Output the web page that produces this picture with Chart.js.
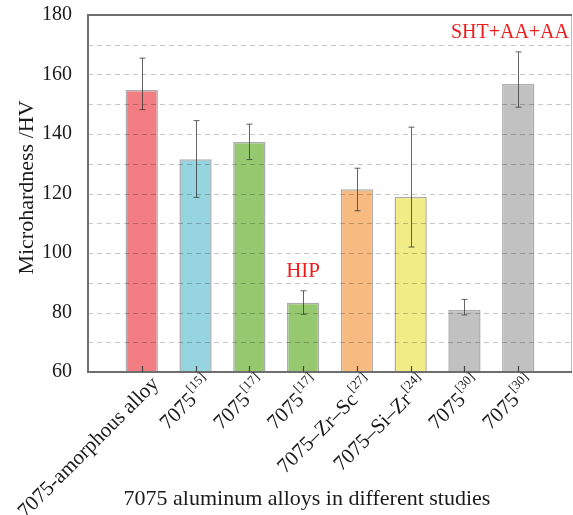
<!DOCTYPE html>
<html>
<head>
<meta charset="utf-8">
<script src="https://cdn.jsdelivr.net/npm/chart.js@4.4.1/dist/chart.umd.min.js"></script>
<style>
  html, body { margin: 0; padding: 0; background: #ffffff; }
  #chart { display: block; }
</style>
</head>
<body>
<canvas id="chart" width="573" height="515"></canvas>
<script>
// Alloy names and their reference numbers (drawn as superscripts)
const alloys = ['7075-amorphous alloy', '7075', '7075', '7075', '7075–Zr–Sc', '7075–Si–Zr', '7075', '7075'];
const refs = ['', '[15]', '[17]', '[17]', '[27]', '[24]', '[30]', '[30]'];

// Mean microhardness (HV) and the ends of each error bar
const hardness = [154.8, 131.5, 137.3, 83.3, 121.4, 118.9, 80.8, 156.8];
const errLow  = [148.2, 118.7, 131.4, 79.4, 114.2, 102.0, 79.2, 149.0];
const errHigh = [165.5, 144.5, 143.3, 87.3, 128.5, 142.3, 84.4, 167.6];

// Y axis range and labelled ticks
const yMin = 60, yMax = 180, yStep = 10;
const yLabelled = [60, 80, 100, 120, 140, 160, 180];

// Text notes placed above bars
const notes = [
  { text: 'HIP', index: 3, value: 92, align: 'center', size: 21 },
  { text: 'SHT+AA+AA', index: null, value: 172.4, align: 'right', size: 20 }
];

const barColors = ['#F27D82', '#96D5DF', '#95C86F', '#F7BB82', '#F2EC86', '#C1C1C1'];
const colorIndex = [0, 1, 2, 2, 3, 4, 5, 5];

const SERIF = '"Liberation Serif", "Times New Roman", serif';

// One empty slot at each end keeps the bars away from the frame
const labels = ['', ...alloys.map((a, i) => a + refs[i]), ''];
const values = [null, ...hardness, null];
const fills = [null, ...colorIndex.map(c => barColors[c]), null];

// Dashed horizontal grid, drawn over the bars
const dashedGrid = {
  id: 'dashedGrid',
  afterDatasetsDraw(chart) {
    const ctx = chart.ctx, y = chart.scales.y, a = chart.chartArea;
    ctx.save();
    ctx.strokeStyle = 'rgba(0,0,0,0.22)';
    ctx.lineWidth = 1;
    ctx.setLineDash([5, 4]);
    y.ticks.forEach(t => {
      if (t.value === yMin || t.value === yMax) return;
      const py = Math.round(y.getPixelForValue(t.value)) + 0.5;
      ctx.beginPath();
      ctx.moveTo(a.left, py); ctx.lineTo(a.right, py);
      ctx.stroke();
    });
    ctx.restore();
  }
};

const decorations = {
  id: 'decorations',
  afterDraw(chart) {
    const ctx = chart.ctx;
    const x = chart.scales.x, y = chart.scales.y;
    const a = chart.chartArea;
    ctx.save();

    // error bars
    ctx.strokeStyle = 'rgba(50,50,50,0.75)';
    ctx.lineWidth = 1;
    hardness.forEach((v, i) => {
      const px = Math.round(x.getPixelForValue(i + 1)) + 0.5;
      const top = y.getPixelForValue(errHigh[i]);
      const bot = y.getPixelForValue(errLow[i]);
      ctx.beginPath();
      ctx.moveTo(px, top); ctx.lineTo(px, bot);
      ctx.moveTo(px - 3, top); ctx.lineTo(px + 3, top);
      ctx.moveTo(px - 3, bot); ctx.lineTo(px + 3, bot);
      ctx.stroke();
    });

    // frame
    ctx.strokeStyle = '#bdbdbd';
    ctx.lineWidth = 1;
    ctx.beginPath();
    ctx.moveTo(a.right - 0.5, a.top); ctx.lineTo(a.right - 0.5, a.bottom);
    ctx.stroke();
    ctx.strokeStyle = '#6e6e6e';
    ctx.lineWidth = 2;
    ctx.beginPath();
    ctx.moveTo(a.left, a.top); ctx.lineTo(a.right, a.top);
    ctx.moveTo(a.left, a.top - 1); ctx.lineTo(a.left, a.bottom + 1);
    ctx.moveTo(a.left - 1, a.bottom); ctx.lineTo(a.right, a.bottom);
    ctx.stroke();

    // inward tick marks on the category axis
    ctx.strokeStyle = '#444';
    ctx.lineWidth = 1.2;
    hardness.forEach((v, i) => {
      const px = Math.round(x.getPixelForValue(i + 1)) + 0.5;
      ctx.beginPath();
      ctx.moveTo(px, a.bottom); ctx.lineTo(px, a.bottom - 6);
      ctx.stroke();
    });

    // rotated category labels with superscript references
    ctx.fillStyle = '#1a1a1a';
    ctx.textBaseline = 'middle';
    ctx.textAlign = 'left';
    alloys.forEach((name, i) => {
      const px = x.getPixelForValue(i + 1);
      ctx.save();
      ctx.translate(px + 14, a.bottom + 9);
      ctx.rotate(-Math.PI / 4);
      ctx.font = '21px ' + SERIF;
      const wMain = ctx.measureText(name).width;
      ctx.font = '13px ' + SERIF;
      const wSup = refs[i] ? ctx.measureText(refs[i]).width + 1 : 0;
      ctx.font = '21px ' + SERIF;
      ctx.fillText(name, -(wMain + wSup), 0);
      if (refs[i]) {
        ctx.font = '13px ' + SERIF;
        ctx.fillText(refs[i], -wSup + 1, -8);
      }
      ctx.restore();
    });

    // axis titles
    ctx.font = '22px ' + SERIF;
    ctx.textAlign = 'center';
    ctx.textBaseline = 'alphabetic';
    ctx.fillText('7075 aluminum alloys in different studies', 307, 505);
    ctx.save();
    ctx.translate(33, (a.top + a.bottom) / 2 - 6);
    ctx.rotate(-Math.PI / 2);
    ctx.fillText('Microhardness /HV', 0, 0);
    ctx.restore();

    // notes
    ctx.fillStyle = '#ee1c1c';
    notes.forEach(n => {
      ctx.font = n.size + 'px ' + SERIF;
      ctx.textAlign = n.align;
      const px = n.index === null ? a.right - 3 : x.getPixelForValue(n.index + 1);
      ctx.fillText(n.text, px, y.getPixelForValue(n.value));
    });

    ctx.restore();
  }
};

new Chart(document.getElementById('chart'), {
  type: 'bar',
  data: {
    labels: labels,
    datasets: [{
      data: values,
      backgroundColor: fills,
      borderColor: 'rgba(90,90,90,0.5)',
      borderWidth: 1.5,
      categoryPercentage: 1,
      barPercentage: 0.6
    }]
  },
  options: {
    responsive: false,
    animation: false,
    devicePixelRatio: 1,
    layout: { padding: { top: 15, right: 1, left: 0, bottom: 0 } },
    plugins: { legend: { display: false }, tooltip: { enabled: false } },
    scales: {
      x: {
        type: 'category',
        offset: false,
        grid: { display: false },
        border: { display: false },
        ticks: { display: false },
        afterFit(scale) { scale.height = 143; scale.paddingLeft = 0; scale.paddingRight = 0; }
      },
      y: {
        min: yMin, max: yMax,
        grid: { display: false },
        border: { display: false },
        ticks: {
          stepSize: yStep,
          padding: 8,
          color: '#1a1a1a',
          font: { family: SERIF, size: 20 },
          callback: v => yLabelled.includes(v) ? String(v) : ''
        },
        afterFit(scale) { scale.width = 88; scale.paddingTop = 0; scale.paddingBottom = 0; }
      }
    }
  },
  plugins: [dashedGrid, decorations]
});
</script>
</body>
</html>
